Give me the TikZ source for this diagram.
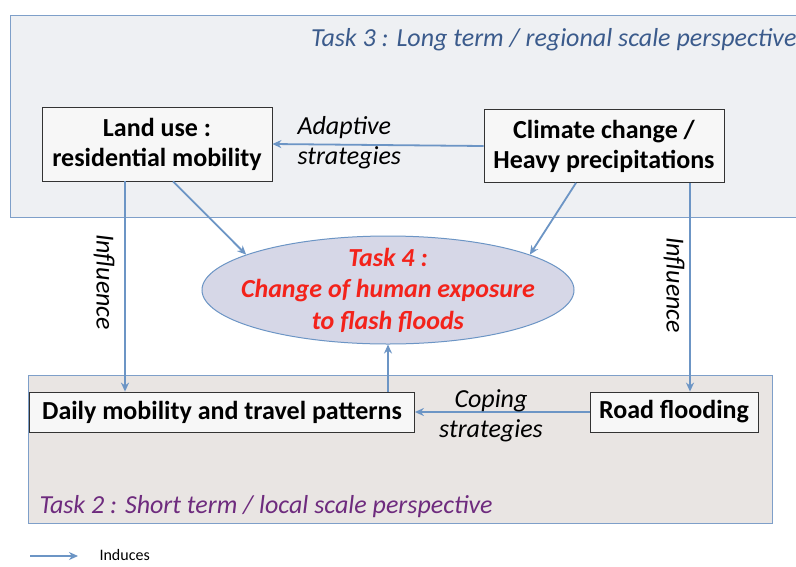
\documentclass[tikz,border=0pt]{standalone}
\usepackage{fontspec}
\setmainfont{Carlito}
\usetikzlibrary{shapes.geometric,arrows.meta}
\definecolor{panelblue}{HTML}{7E9FC9}
\definecolor{arrowblue}{HTML}{6C95C5}
\definecolor{topfill}{HTML}{EEF0F3}
\definecolor{botfill}{HTML}{E9E5E3}
\definecolor{ellfill}{HTML}{D6D7E7}
\definecolor{taskred}{HTML}{F3231B}
\definecolor{taskblue}{HTML}{3B5B8C}
\definecolor{taskpurple}{HTML}{6E2B7E}
\begin{document}
\begin{tikzpicture}[x=1pt, y=-1pt,
    box/.style={draw=black!80, fill=gray!6, line width=0.8pt, align=center, font=\fontsize{26}{30}\selectfont\bfseries, inner sep=0pt},
    induce/.style={draw=arrowblue, line width=1.8pt, -{Stealth[length=9pt, width=8pt]}},
    lbl/.style={font=\fontsize{26}{30}\selectfont\itshape}]
    \clip (0,0) rectangle (796,566);
    \fill[white] (0,0) rectangle (796,566);
    \draw[panelblue, fill=topfill, line width=0.8pt] (10,15) rectangle (805,217);
    \draw[panelblue, fill=botfill, line width=0.8pt] (28,375) rectangle (772,523);
    \node[lbl, text=taskblue, anchor=east] (t3) at (800,40) {Task 3 : Long term / regional scale perspective};
    \node[lbl, text=taskpurple, anchor=west] (t2) at (36,507) {Task 2 : Short term / local scale perspective};
    \node[box, minimum width=230, minimum height=74] (landuse) at (157,144) {Land use :\\residential mobility};
    \node[box, minimum width=240, minimum height=73] (climate) at (604,146) {Climate change /\\Heavy precipitations};
    \node[box, minimum width=385, minimum height=40] (daily) at (222,412) {Daily mobility and travel patterns};
    \node[box, minimum width=168, minimum height=40] (road) at (674,412) {Road flooding};
    \node[ellipse, draw=arrowblue, fill=ellfill, line width=1pt, minimum width=372, minimum height=108,
        inner xsep=-30pt, inner ysep=-12pt,
        align=center, text=taskred, font=\fontsize{26}{31.5}\selectfont\bfseries\itshape] (task4) at (388,290)
        {Task 4 :\\Change of human exposure\\to flash floods};
    \draw[induce] (climate.west) -- (landuse.east);
    \draw[induce] ([xshift=16]landuse.south) -- (task4.166);
    \draw[induce] ([xshift=-28]climate.south) -- (task4.14);
    \draw[induce] ([xshift=-32]landuse.south) -- ([xshift=-32]landuse.south |- daily.north);
    \draw[induce] ([xshift=86]climate.south) -- ([xshift=86]climate.south |- road.north);
    \draw[induce] (road.west) -- (daily.east);
    \draw[induce] (daily.north -| task4.south) -- (task4.south);
    \node[lbl, align=left, anchor=west] (adapt) at (294,143) {Adaptive\\strategies};
    \node[lbl, align=center] (coping) at (491,416) {Coping\\strategies};
    \node[lbl, rotate=-90] (infl1) at (104,282) {Influence};
    \node[lbl, rotate=-90] (infl2) at (674,285) {Influence};
    \coordinate (leg1) at (30,556);
    \coordinate (leg2) at (78,556);
    \draw[induce] (leg1) -- (leg2);
    \node[anchor=west, font=\fontsize{16}{18}\selectfont] (induces) at (96,555) {Induces};
\end{tikzpicture}
\end{document}
